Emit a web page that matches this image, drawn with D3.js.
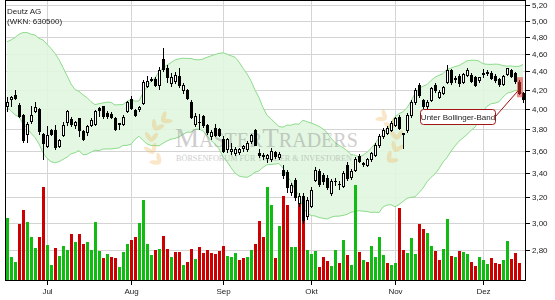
<!DOCTYPE html>
<html>
<head>
<meta charset="utf-8">
<script src="https://cdn.jsdelivr.net/npm/d3@7"></script>
<style>
  body { margin: 0; background: #fff; }
  svg { display: block; font-family: "Liberation Sans", Arial, sans-serif; }
</style>
</head>
<body>
<svg id="chart" width="555" height="300"></svg>
<script>
// ---- data (Deutz AG, daily) ----
const opens = [4.03,4.10,4.14,4.04,3.94,3.75,3.88,3.98,4.00,3.75,
  3.64,3.79,3.79,3.64,3.74,3.87,3.90,3.84,3.91,3.78,
  3.77,3.84,3.85,4.01,4.03,3.96,3.95,3.91,3.85,3.85,
  3.98,4.10,3.99,4.00,4.06,4.24,4.30,4.31,4.25,4.54,
  4.44,4.27,4.29,4.35,4.19,4.19,4.07,3.85,3.87,3.93,
  3.84,3.73,3.81,3.80,3.71,3.61,3.60,3.58,3.59,3.62,
  3.61,3.69,3.79,3.58,3.56,3.53,3.52,3.59,3.54,3.43,
  3.41,3.24,3.34,3.15,3.21,3.05,3.13,3.34,3.42,3.38,
  3.36,3.23,3.33,3.31,3.29,3.47,3.37,3.43,3.55,3.49,
  3.47,3.52,3.56,3.65,3.73,3.76,3.79,3.84,3.92,3.75,
  3.79,3.94,4.07,4.25,4.09,4.03,4.09,4.25,4.12,4.16,
  4.28,4.41,4.31,4.35,4.28,4.36,4.36,4.33,4.30,4.37,
  4.38,4.38,4.35,4.31,4.26,4.37,4.41,4.38,4.28,4.16];
const highs = [4.12,4.13,4.20,4.06,3.95,3.87,4.03,4.07,4.01,3.76,
  3.83,3.80,3.84,3.71,3.87,3.99,3.92,3.88,3.91,3.79,
  3.84,3.91,3.99,4.02,4.03,3.98,3.97,3.92,3.86,3.94,
  4.08,4.13,4.00,4.03,4.30,4.35,4.34,4.34,4.45,4.66,
  4.47,4.38,4.39,4.44,4.27,4.21,4.09,3.96,3.95,3.94,
  3.85,3.79,3.85,3.81,3.73,3.72,3.67,3.63,3.62,3.65,
  3.69,3.75,3.80,3.61,3.58,3.57,3.62,3.60,3.59,3.47,
  3.43,3.32,3.36,3.23,3.23,3.20,3.28,3.45,3.44,3.40,
  3.38,3.35,3.36,3.33,3.42,3.50,3.44,3.54,3.57,3.50,
  3.53,3.59,3.67,3.75,3.81,3.83,3.88,3.92,3.94,3.76,
  3.96,4.09,4.22,4.27,4.10,4.09,4.23,4.27,4.19,4.24,
  4.47,4.42,4.35,4.37,4.38,4.43,4.38,4.35,4.34,4.42,
  4.41,4.40,4.37,4.32,4.36,4.44,4.42,4.39,4.30,4.17];
const lows = [3.98,4.03,4.10,3.92,3.68,3.68,3.86,3.97,3.75,3.52,
  3.63,3.74,3.61,3.63,3.73,3.84,3.83,3.81,3.73,3.70,
  3.74,3.83,3.84,3.93,3.91,3.91,3.91,3.79,3.80,3.84,
  3.97,4.00,3.93,3.98,4.05,4.23,4.29,4.24,4.21,4.40,
  4.28,4.24,4.27,4.23,4.16,4.10,3.91,3.83,3.80,3.82,
  3.75,3.71,3.73,3.73,3.59,3.59,3.57,3.56,3.57,3.60,
  3.60,3.67,3.65,3.54,3.52,3.50,3.51,3.53,3.52,3.36,
  3.24,3.22,3.18,3.13,3.00,3.03,3.12,3.33,3.29,3.31,
  3.27,3.22,3.30,3.27,3.28,3.34,3.35,3.42,3.50,3.46,
  3.46,3.51,3.55,3.63,3.72,3.75,3.78,3.83,3.80,3.62,
  3.77,3.92,4.05,4.12,4.01,4.00,4.08,4.17,4.11,4.15,
  4.27,4.26,4.28,4.24,4.27,4.35,4.28,4.24,4.28,4.33,
  4.36,4.31,4.28,4.24,4.25,4.36,4.34,4.27,4.15,4.07];
const closes = [4.07,4.12,4.11,3.93,3.70,3.85,3.94,4.02,3.78,3.67,
  3.74,3.75,3.63,3.70,3.84,3.98,3.85,3.87,3.79,3.71,
  3.83,3.89,3.98,3.99,3.93,3.93,3.92,3.80,3.86,3.92,
  4.07,4.01,3.94,4.02,4.28,4.29,4.31,4.25,4.41,4.42,
  4.33,4.34,4.36,4.25,4.25,4.11,3.92,3.93,3.87,3.84,
  3.77,3.77,3.74,3.74,3.60,3.71,3.61,3.61,3.61,3.64,
  3.67,3.74,3.65,3.56,3.55,3.56,3.60,3.55,3.57,3.38,
  3.28,3.30,3.20,3.21,3.02,3.18,3.26,3.43,3.31,3.33,
  3.28,3.33,3.33,3.31,3.40,3.36,3.42,3.52,3.51,3.48,
  3.52,3.58,3.65,3.73,3.79,3.81,3.86,3.91,3.81,3.76,
  3.94,4.07,4.20,4.14,4.03,4.07,4.22,4.19,4.17,4.23,
  4.41,4.28,4.32,4.27,4.37,4.41,4.29,4.25,4.33,4.38,
  4.39,4.32,4.30,4.26,4.35,4.43,4.35,4.29,4.16,4.10];

// volume in 1000 shares (last day has no volume yet)
const volumes = [1560,580,450,1410,1760,1450,1080,810,1080,2330,
  880,380,810,610,860,750,1150,960,1150,910,
  960,750,1450,730,560,650,580,560,330,700,
  900,1000,1080,1430,2000,900,630,750,780,1100,
  780,580,700,700,380,450,780,530,830,680,
  750,680,650,730,850,600,580,680,500,550,
  580,750,900,1480,1080,2330,1880,550,1350,2100,
  1880,830,830,2100,2080,750,650,730,330,580,
  480,350,750,430,1000,630,380,2380,700,500,
  450,850,580,1080,630,430,380,430,1800,750,
  680,1050,650,1400,1280,1180,850,730,500,780,
  1530,600,580,730,700,650,450,350,580,500,
  400,550,430,400,500,980,530,680,430];
// G = up day, R = down day, as coloured in the volume panel
const volumeDir = "GGGRRGGGRR" + "GGRGGGRGRR" + "GGGGRGRRGG" + "GRRGGGGRGR" +
  "RGRRGRRGRR" + "RRRRRGGGRR" + "GGRRRGGRGR" + "RGGRRGGGRR" +
  "RGGRGRGGRG" + "RGGGGRGGRR" + "GGGRRGGRRG" + "GRGRGGRRGG" + "GRRRGGRRR";

// Bollinger band (20, 2) for the first days, whose window starts before the chart
const bandUpperStart = [4.74,4.76,4.79,4.83,4.85,4.85,4.83,4.82,4.78,4.76,
  4.71,4.66,4.60,4.53,4.44,4.35,4.26,4.20,4.18];
const bandLowerStart = [4.02,3.98,3.94,3.92,3.85,3.81,3.76,3.72,3.66,3.58,
  3.53,3.50,3.49,3.50,3.52,3.54,3.57,3.58,3.60];

const monthLabels = ["Jul", "Aug", "Sep", "Okt", "Nov", "Dez"];
const monthStart = [10, 31, 54, 76, 97, 119];
const priceTicks = [2.8, 3.0, 3.2, 3.4, 3.6, 3.8, 4.0, 4.2, 4.4, 4.6, 4.8, 5.0, 5.2];
const titleLines = ["Deutz AG", "(WKN: 630500)"];
const signalIndex = 128;
const signalText = "Unter Bollinger-Band";

// ---- layout ----
const width = 555, height = 300;
const plotLeft = 5, plotRight = 525, plotTop = 0, plotBottom = 280;

const svg = d3.select("#chart");
const n = closes.length;

const x = d3.scaleLinear().domain([0, n - 1]).range([7.5, 7.5 + 4 * (n - 1)]);
const y = d3.scaleLog().domain([2.8, 5.2]).range([250, 5]);
const yVol = d3.scaleLinear().domain([0, 2500]).range([plotBottom, plotBottom - 100]);
const fmt = d3.format(".2f");
const px = (v) => Math.round(v) + 0.5;

// bollinger band
const band = closes.map(function(c, i) {
  if (i < bandUpperStart.length) {
    return { i: i, up: bandUpperStart[i], lo: bandLowerStart[i] };
  }
  const win = closes.slice(i - 19, i + 1);
  const m = d3.mean(win);
  const sd = Math.sqrt(d3.mean(win, (v) => (v - m) * (v - m)));
  return { i: i, up: m + 2 * sd, lo: m - 2 * sd };
});

svg.append("rect").attr("width", width).attr("height", height).attr("fill", "#fff");

// grid
const grid = svg.append("g").attr("shape-rendering", "crispEdges");
grid.selectAll("line.h")
  .data(priceTicks)
  .join("line")
  .attr("class", "h")
  .attr("x1", plotLeft).attr("x2", plotRight)
  .attr("y1", (d) => px(y(d))).attr("y2", (d) => px(y(d)))
  .attr("stroke", "#d4d4d4");
grid.selectAll("line.v")
  .data(monthStart)
  .join("line")
  .attr("class", "v")
  .attr("x1", (d) => x(d)).attr("x2", (d) => x(d))
  .attr("y1", plotTop).attr("y2", plotBottom)
  .attr("stroke", "#d4d4d4");

// band
const bandArea = d3.area()
  .x((d) => x(d.i) - 0.5)
  .y0((d) => y(d.lo))
  .y1((d) => y(d.up));
svg.append("path")
  .datum(band)
  .attr("d", bandArea)
  .attr("fill", "#e0f6df")
  .attr("fill-opacity", 0.9);
["up", "lo"].forEach(function(k) {
  svg.append("path")
    .datum(band)
    .attr("d", d3.line().x((d) => x(d.i) - 0.5).y((d) => y(d[k])))
    .attr("fill", "none")
    .attr("stroke", "#8edc8c")
    .attr("stroke-width", 1);
});

// watermark: laurel branches and the forum name
function drawLaurel(g) {
  const cx = 178, cy = 143, r = 27;
  [132, 158, 184, 210, 234].forEach(function(a) {
    const rad = a * Math.PI / 180;
    const bx = cx + r * Math.cos(rad), by = cy + r * Math.sin(rad);
    [a + 55, a + 125].forEach(function(rot) {
      const rr = rot * Math.PI / 180;
      g.append("ellipse")
        .attr("cx", bx + 5 * Math.cos(rr)).attr("cy", by + 5 * Math.sin(rr))
        .attr("rx", 5.5).attr("ry", 2.2)
        .attr("transform", `rotate(${rot},${bx + 5 * Math.cos(rr)},${by + 5 * Math.sin(rr)})`);
    });
  });
}
const laurels = svg.append("g").attr("fill", "#f0b862").attr("opacity", 0.35);
drawLaurel(laurels.append("g"));
drawLaurel(laurels.append("g").attr("transform", "translate(548,-2) scale(-1,1)"));

const mark = svg.append("g").attr("opacity", 0.42);
const mt = mark.append("text")
  .attr("x", 175).attr("y", 147)
  .attr("fill", "#8a8a8a")
  .style("font-family", "'Liberation Serif', 'DejaVu Serif', serif");
[["M", 27], ["ASTER", 20], ["T", 27], ["RADERS", 20]].forEach(function(p) {
  mt.append("tspan").attr("font-size", p[1]).text(p[0]);
});
mark.append("text")
  .attr("x", 176).attr("y", 161)
  .attr("fill", "#8a8a8a")
  .attr("font-size", 8.5)
  .attr("textLength", 176)
  .attr("lengthAdjust", "spacingAndGlyphs")
  .style("font-family", "'Liberation Serif', 'DejaVu Serif', serif")
  .text("BÖRSENFORUM FÜR TRADER & INVESTOREN");

// volume
svg.append("g")
  .attr("shape-rendering", "crispEdges")
  .selectAll("rect")
  .data(volumes)
  .join("rect")
  .attr("x", (d, i) => x(i) - 1.5)
  .attr("width", 3)
  .attr("y", (d) => Math.round(yVol(d)))
  .attr("height", (d) => plotBottom - Math.round(yVol(d)))
  .attr("fill", (d, i) => volumeDir[i] === "G" ? "#11bb11" : "#cc0000");

// candles
const candle = svg.append("g")
  .attr("shape-rendering", "crispEdges")
  .selectAll("g")
  .data(closes.map((c, i) => ({ i: i, o: opens[i], h: highs[i], l: lows[i], c: c })))
  .join("g");
candle.append("line")
  .attr("x1", (d) => x(d.i)).attr("x2", (d) => x(d.i))
  .attr("y1", (d) => Math.round(y(d.h))).attr("y2", (d) => Math.round(y(d.l)) + 1)
  .attr("stroke", "#000");
candle.append("rect")
  .attr("x", (d) => x(d.i) - 1)
  .attr("width", 2)
  .attr("y", (d) => px(y(Math.max(d.o, d.c))))
  .attr("height", (d) => Math.max(0.01, Math.round(y(Math.min(d.o, d.c))) - Math.round(y(Math.max(d.o, d.c)))))
  .attr("fill", (d) => d.c >= d.o ? "#fff" : "#000")
  .attr("stroke", "#000");

// frame and axes
const axes = svg.append("g").attr("shape-rendering", "crispEdges").attr("stroke", "#000");
axes.append("line").attr("x1", plotLeft + 0.5).attr("x2", plotLeft + 0.5).attr("y1", plotTop).attr("y2", plotBottom + 1);
axes.append("line").attr("x1", plotRight + 0.5).attr("x2", plotRight + 0.5).attr("y1", plotTop).attr("y2", plotBottom + 1);
axes.append("line").attr("x1", plotLeft).attr("x2", plotRight + 1).attr("y1", plotBottom + 0.5).attr("y2", plotBottom + 0.5);
axes.append("line").attr("x1", plotLeft).attr("x2", plotRight + 1).attr("y1", plotTop + 0.5).attr("y2", plotTop + 0.5);
axes.selectAll("line.yt")
  .data(priceTicks)
  .join("line")
  .attr("class", "yt")
  .attr("x1", plotRight).attr("x2", plotRight + 5)
  .attr("y1", (d) => px(y(d))).attr("y2", (d) => px(y(d)));
axes.selectAll("line.xt")
  .data(monthStart)
  .join("line")
  .attr("class", "xt")
  .attr("x1", (d) => x(d)).attr("x2", (d) => x(d))
  .attr("y1", plotBottom).attr("y2", plotBottom + 5);

svg.append("g")
  .selectAll("text")
  .data(priceTicks)
  .join("text")
  .attr("x", plotRight + 7)
  .attr("y", (d) => y(d) + 3)
  .attr("font-size", 8)
  .attr("fill", "#222")
  .text((d) => fmt(d).replace(".", ","));

svg.append("g")
  .selectAll("text")
  .data(monthLabels)
  .join("text")
  .attr("x", (d, i) => x(monthStart[i]))
  .attr("y", 294)
  .attr("text-anchor", "middle")
  .attr("font-size", 8)
  .attr("fill", "#222")
  .text((d) => d);

// title
svg.append("g")
  .selectAll("text")
  .data(titleLines)
  .join("text")
  .attr("x", 7)
  .attr("y", (d, i) => 14 + i * 10)
  .attr("font-size", 8)
  .attr("fill", "#222")
  .text((d) => d);

// signal marker
const s = { x: x(signalIndex), yh: y(highs[signalIndex]), yl: y(lows[signalIndex]) };
svg.append("line")
  .attr("x1", 495).attr("y1", 117)
  .attr("x2", s.x - 1).attr("y2", s.yl - 4)
  .attr("stroke", "#9b1111");
svg.append("rect")
  .attr("x", s.x - 2.5).attr("width", 6)
  .attr("y", s.yh - 3).attr("height", s.yl - s.yh + 6)
  .attr("fill", "#e8302f")
  .attr("fill-opacity", 0.55);
svg.append("rect")
  .attr("x", 420.5).attr("y", 109.5)
  .attr("width", 75).attr("height", 15)
  .attr("rx", 3)
  .attr("fill", "#fff")
  .attr("stroke", "#a31515");
svg.append("text")
  .attr("x", 458).attr("y", 120)
  .attr("text-anchor", "middle")
  .attr("font-size", 8)
  .attr("fill", "#222")
  .text(signalText);
</script>
</body>
</html>
